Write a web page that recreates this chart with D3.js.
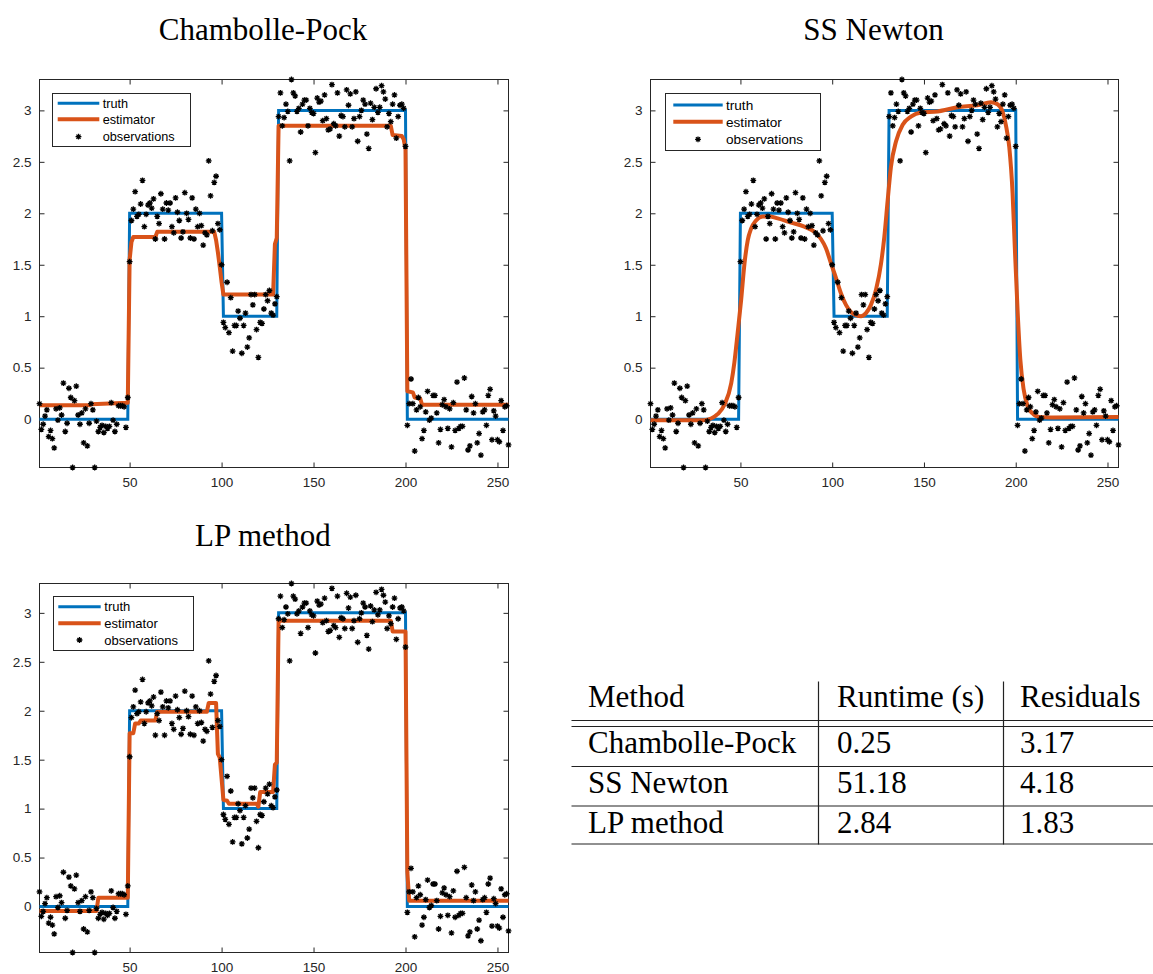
<!DOCTYPE html>
<html><head><meta charset="utf-8">
<script src="https://cdn.jsdelivr.net/npm/d3@7"></script>
<style>body{margin:0;background:#fff}svg{display:block}</style>
</head><body>
<svg id="c" width="1153" height="974"></svg>
<script>
// ---------------- data ----------------
const xTicks = [50, 100, 150, 200, 250];
const yTicks = [0, 0.5, 1, 1.5, 2, 2.5, 3];
const yTickLabels = ["0", "0.5", "1", "1.5", "2", "2.5", "3"];
const legendLabels = ["truth", "estimator", "observations"];
const panelTitles = ["Chambolle-Pock", "SS Newton", "LP method"];

const truthBreaks = [1, 50, 101, 131, 201];
const truthLevels = [0, 2, 1, 3, 0];

const observations = [
  0.15,-0.10,-0.05,0.03,0.09,-0.17,-0.11,-0.19,-0.28,0.10,-0.01,0.11,0.04,0.35,-0.12,-0.04,0.30,0.21,-0.47,0.18,
  0.32,0.04,-0.05,0.06,-0.23,0.10,-0.26,-0.04,0.15,0.09,-0.47,-0.02,-0.12,-0.08,-0.06,-0.13,-0.07,-0.09,-0.07,0.16,
  -0.01,-0.12,-0.05,0.13,0.13,0.13,0.12,-0.08,0.21,
  1.53,1.93,2.04,2.21,1.97,1.99,2.09,2.32,1.87,1.99,2.08,2.10,2.05,2.14,1.75,1.97,1.90,2.19,2.04,1.75,
  2.10,2.03,2.10,1.87,1.81,2.15,2.01,1.93,1.76,1.82,2.20,2.00,1.94,1.76,2.15,1.75,2.04,1.87,2.00,1.88,
  1.69,1.81,1.79,2.51,2.17,1.83,2.30,2.36,1.90,1.84,1.50,
  0.94,0.89,1.33,0.84,1.18,0.66,0.91,0.91,1.05,0.98,0.64,0.91,1.03,0.70,0.79,1.21,1.11,1.21,0.87,0.60,
  0.94,0.93,1.07,1.21,1.15,1.25,1.03,1.01,1.12,1.19,
  2.94,3.17,2.85,2.93,3.06,2.99,2.51,3.30,3.17,3.14,2.99,3.02,2.79,3.06,3.10,3.10,2.85,3.02,2.98,2.97,
  2.59,3.12,3.08,3.09,2.90,3.15,2.92,2.81,2.82,3.25,2.87,2.85,3.17,2.75,2.95,2.94,2.84,3.20,3.05,3.16,
  2.84,2.92,3.18,2.70,2.94,3.00,3.10,3.06,2.77,2.63,3.07,2.91,3.03,3.21,2.98,3.03,3.24,3.18,3.11,2.84,
  2.97,2.89,3.06,3.15,2.73,2.94,3.05,3.06,3.02,2.65,
  -0.06,0.15,0.39,0.15,-0.31,0.09,0.21,0.12,-0.19,-0.11,0.07,0.27,-0.01,0.01,0.23,0.23,0.06,-0.23,-0.10,0.14,
  0.19,0.12,-0.09,0.10,-0.27,0.16,-0.11,0.36,-0.09,-0.07,-0.07,0.40,0.09,-0.30,-0.26,0.22,0.06,0.15,-0.23,-0.14,
  -0.35,0.07,0.09,-0.06,0.23,0.29,-0.20,0.08,0.03,-0.20,-0.22,0.18,-0.11,0.12,0.13,-0.25
];

// Chambolle-Pock estimator (breakpoints)
const cpX = [1, 28, 29, 49, 50, 51, 52, 64, 65, 96, 97, 98, 99, 100, 101, 128, 129, 130, 131, 192, 193, 198, 199, 200, 201, 204, 205, 208, 209, 256];
const cpY = [0.135, 0.135, 0.145, 0.16, 1.55, 1.72, 1.77, 1.77, 1.82, 1.82, 1.74, 1.62, 1.48, 1.33, 1.21, 1.21, 1.70, 1.76, 2.85, 2.85, 2.76, 2.75, 2.72, 2.62, 0.27, 0.26, 0.21, 0.20, 0.14, 0.14];

// SS Newton estimator (samples of smooth curve)
const ssX = [1, 30, 34, 37.7, 41.3, 45, 46.7, 48.5, 50.4, 52.2, 54, 55.8, 58.5, 62.2, 65.8, 70.3, 77.6, 84.8, 90.3, 93.9, 96.6, 99.4, 102.1, 104.8, 107.5, 110.3, 113, 115.7, 118.4, 121.1, 123.9, 126.6, 128.4, 130.2, 132, 134.8, 138.4, 142.9, 148.4, 157.4, 168.3, 179.2, 186.5, 190.1, 192.8, 194.6, 196.5, 198.3, 199.5, 201, 202.5, 204.3, 206.4, 209.2, 212.8, 219.1, 256];
const ssY = [-0.01, -0.01, 0.006, 0.05, 0.14, 0.35, 0.55, 0.84, 1.16, 1.51, 1.74, 1.85, 1.93, 1.97, 1.97, 1.95, 1.91, 1.87, 1.82, 1.75, 1.66, 1.51, 1.37, 1.22, 1.11, 1.04, 1.01, 1.00, 1.03, 1.11, 1.26, 1.51, 1.77, 2.12, 2.45, 2.70, 2.86, 2.94, 2.98, 2.99, 3.03, 3.05, 3.08, 3.06, 2.99, 2.86, 2.64, 2.19, 1.67, 1.06, 0.58, 0.29, 0.13, 0.055, 0.02, 0.016, 0.02];

// LP method estimator (breakpoints)
const lpX = [1, 32, 33, 49, 50, 52, 53, 55, 56, 64, 65, 92, 93, 97, 98, 99, 101, 103, 104, 119, 120, 121, 128, 129, 130, 131, 192, 193, 200, 201, 202, 256];
const lpY = [-0.045, -0.045, 0.09, 0.09, 1.77, 1.77, 1.87, 1.87, 1.90, 1.90, 1.99, 1.99, 2.08, 2.08, 1.56, 1.52, 1.09, 1.08, 1.05, 1.05, 1.02, 1.17, 1.17, 1.45, 1.47, 2.92, 2.92, 2.81, 2.81, 0.35, 0.06, 0.06];

// table
const tableHeader = ["Method", "Runtime (s)", "Residuals"];
const tableMethods = ["Chambolle-Pock", "SS Newton", "LP method"];
const tableRuntimes = ["0.25", "51.18", "2.84"];
const tableResiduals = ["3.17", "4.18", "1.83"];

// ---------------- drawing ----------------
const BLUE = "#0072BD", ORANGE = "#D95319", AX = "#262626";
const svg = d3.select("#c");

const truthSeries = observations.map((_, k) => {
  const i = k + 1;
  let lvl = truthLevels[0];
  truthBreaks.forEach((b, j) => { if (i >= b) lvl = truthLevels[j]; });
  return [i, lvl];
});
const obsSeries = observations.map((v, k) => [k + 1, v]);

const asterisk = {
  draw(ctx, size) {
    const r = Math.sqrt(size) / 2, d = r * 0.7071;
    ctx.moveTo(-r, 0); ctx.lineTo(r, 0);
    ctx.moveTo(0, -r); ctx.lineTo(0, r);
    ctx.moveTo(-d, -d); ctx.lineTo(d, d);
    ctx.moveTo(-d, d); ctx.lineTo(d, -d);
  }
};
const starPath = d3.symbol().type(asterisk).size(34)();

const panels = [
  { title: panelTitles[0], L: 39.5, R: 508.5, T: 79.5, B: 467.5, titleX: 263, titleY: 40,
    estX: cpX, estY: cpY, curve: d3.curveLinear,
    leg: { x0: 52.5, y0: 93.5, x1: 190.5, y1: 146.5, lx0: 57.7, lx1: 99.3, ys: [103.3, 119.3, 136.7], tx: 102.7, fs: 12.7 } },
  { title: panelTitles[1], L: 650.5, R: 1118.5, T: 79.5, B: 467.5, titleX: 873.5, titleY: 40,
    estX: ssX, estY: ssY, curve: d3.curveMonotoneX,
    leg: { x0: 665.5, y0: 93.5, x1: 820.5, y1: 150.5, lx0: 673.3, lx1: 722.7, ys: [105, 121.7, 139.3], tx: 726, fs: 13.6 } },
  { title: panelTitles[2], L: 39.5, R: 508.5, T: 583.5, B: 952.5, titleX: 263, titleY: 546,
    estX: lpX, estY: lpY, curve: d3.curveLinear,
    leg: { x0: 53.5, y0: 596.5, x1: 193.5, y1: 650.5, lx0: 58.3, lx1: 100.7, ys: [606.7, 623.3, 640], tx: 104.3, fs: 13 } }
];

const yExtent = d3.extent(observations);

panels.forEach(p => {
  const x = d3.scaleLinear().domain([1, observations.length]).range([p.L, p.R]);
  const y = d3.scaleLinear().domain(yExtent).range([p.B, p.T]);
  const g = svg.append("g");

  // title
  svg.append("text").attr("x", p.titleX).attr("y", p.titleY).attr("text-anchor", "middle")
    .attr("font-family", "Liberation Serif, Times New Roman, serif").attr("font-size", 31)
    .attr("fill", "#000").text(p.title);

  // box
  g.append("rect").attr("x", p.L).attr("y", p.T).attr("width", p.R - p.L).attr("height", p.B - p.T)
    .attr("fill", "#fff").attr("stroke", AX).attr("stroke-width", 1);

  // axes (ticks inward, on all sides)
  const tl = 5;
  const axB = d3.axisBottom(x).tickValues(xTicks).tickSize(-tl).tickPadding(10).tickFormat(d3.format("d"));
  const axT = d3.axisTop(x).tickValues(xTicks).tickSize(-tl).tickFormat("");
  const axL = d3.axisLeft(y).tickValues(yTicks).tickSize(-tl).tickPadding(8).tickFormat((d, i) => yTickLabels[i]);
  const axR = d3.axisRight(y).tickValues(yTicks).tickSize(-tl).tickFormat("");
  const style = sel => {
    sel.select(".domain").remove();
    sel.selectAll(".tick line").attr("stroke", AX).attr("stroke-width", 1);
    sel.selectAll(".tick text").attr("fill", AX).attr("font-family", "Liberation Sans, Arial, Helvetica, sans-serif").attr("font-size", 13.5);
  };
  g.append("g").attr("transform", `translate(0,${p.B})`).call(axB).call(style);
  g.append("g").attr("transform", `translate(0,${p.T})`).call(axT).call(style);
  g.append("g").attr("transform", `translate(${p.L},0)`).call(axL).call(style);
  g.append("g").attr("transform", `translate(${p.R},0)`).call(axR).call(style);

  // truth
  g.append("path").datum(truthSeries)
    .attr("d", d3.line().x(d => x(d[0])).y(d => y(d[1])))
    .attr("fill", "none").attr("stroke", BLUE).attr("stroke-width", 3).attr("stroke-linejoin", "miter");

  // estimator
  const est = p.estX.map((v, i) => [v, p.estY[i]]);
  g.append("path").datum(est)
    .attr("d", d3.line().curve(p.curve).x(d => x(d[0])).y(d => y(d[1])))
    .attr("fill", "none").attr("stroke", ORANGE).attr("stroke-width", 4).attr("stroke-linejoin", "round");

  // observations
  g.append("g").selectAll("path").data(obsSeries).join("path")
    .attr("transform", d => `translate(${x(d[0])},${y(d[1])})`)
    .attr("d", starPath).attr("fill", "none").attr("stroke", "#000").attr("stroke-width", 1.3);

  // legend
  const lg = p.leg;
  const leg = g.append("g");
  leg.append("rect").attr("x", lg.x0).attr("y", lg.y0).attr("width", lg.x1 - lg.x0).attr("height", lg.y1 - lg.y0)
    .attr("fill", "#fff").attr("stroke", AX).attr("stroke-width", 1);
  leg.append("line").attr("x1", lg.lx0).attr("x2", lg.lx1).attr("y1", lg.ys[0]).attr("y2", lg.ys[0])
    .attr("stroke", BLUE).attr("stroke-width", 3);
  leg.append("line").attr("x1", lg.lx0).attr("x2", lg.lx1).attr("y1", lg.ys[1]).attr("y2", lg.ys[1])
    .attr("stroke", ORANGE).attr("stroke-width", 4);
  leg.append("path").attr("transform", `translate(${(lg.lx0 + lg.lx1) / 2},${lg.ys[2]})`)
    .attr("d", starPath).attr("fill", "none").attr("stroke", "#000").attr("stroke-width", 1.3);
  legendLabels.forEach((t, i) => {
    leg.append("text").attr("x", lg.tx).attr("y", lg.ys[i] + lg.fs * 0.36)
      .attr("font-family", "Liberation Sans, Arial, Helvetica, sans-serif").attr("font-size", lg.fs)
      .attr("fill", "#000").text(t);
  });
});

// ---------------- table ----------------
const tg = svg.append("g").attr("font-family", "Liberation Serif, Times New Roman, serif").attr("font-size", 31).attr("fill", "#000");
const colX = [588, 837, 1020];
const sepX = [818.5, 1003.5];
const tTop = 681.5, tBottom = 844.5, tLeft = 571.5, tRight = 1153;
const hlines = [720.5, 726.5, 766.5, 806, 844];
hlines.forEach(yy => tg.append("line").attr("x1", tLeft).attr("x2", tRight).attr("y1", yy).attr("y2", yy)
  .attr("stroke", "#222").attr("stroke-width", 1.2));
sepX.forEach(xx => tg.append("line").attr("x1", xx).attr("x2", xx).attr("y1", tTop).attr("y2", tBottom)
  .attr("stroke", "#222").attr("stroke-width", 1.2));
const rowBase = [706.7, 753.3, 793, 832.5];
tableHeader.forEach((t, i) => tg.append("text").attr("x", colX[i]).attr("y", rowBase[0]).text(t));
tableMethods.forEach((m, r) => {
  const row = [m, tableRuntimes[r], tableResiduals[r]];
  row.forEach((t, i) => tg.append("text").attr("x", colX[i]).attr("y", rowBase[r + 1]).text(t));
});
</script>
</body></html>
